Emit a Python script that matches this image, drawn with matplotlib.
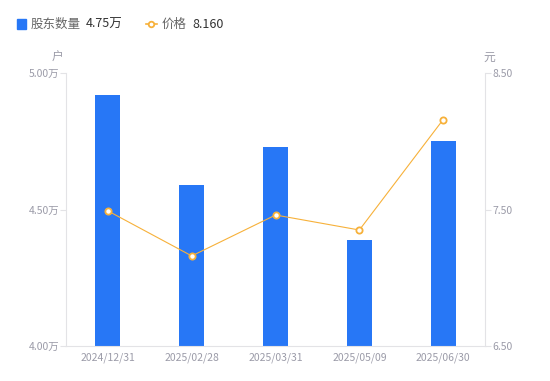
import numpy as np
import matplotlib
matplotlib.use("Agg")
import matplotlib.pyplot as plt

plt.rcParams['font.family'] = ['Noto Sans CJK SC', 'DejaVu Sans']

dates = ['2024/12/31', '2025/02/28', '2025/03/31', '2025/05/09', '2025/06/30']
holders = [4.92, 4.59, 4.73, 4.39, 4.75]   # 万户
price = [7.49, 7.16, 7.46, 7.35, 8.16]     # 元

bar_c = '#2777f6'
line_c = '#f7b13a'
tick_c = '#9b9ba8'
axis_c = '#e3e3e6'

fig = plt.figure(figsize=(5.5, 3.81), dpi=100)
ax = fig.add_axes([0.12, 0.092, 0.762, 0.716])
x = np.arange(len(dates))
ax.bar(x, holders, width=0.3, color=bar_c, zorder=2)
ax.set_xlim(-0.5, 4.5)
ax.set_ylim(4.0, 5.0)
ax.set_yticks([4.0, 4.5, 5.0])
ax.set_yticklabels(['%.2f万' % v for v in [4.0, 4.5, 5.0]])
ax.set_xticks(x)
ax.set_xticklabels(dates)

ax2 = ax.twinx()
ax2.plot(x, price, color=line_c, lw=0.8, marker='o', ms=4.5, mfc='white',
         mec=line_c, mew=1.3, zorder=3)
ax2.set_ylim(6.5, 8.5)
ax2.set_yticks([6.5, 7.5, 8.5])
ax2.set_yticklabels(['6.50', '7.50', '8.50'])

for a in (ax, ax2):
    for s in a.spines.values():
        s.set_visible(False)
    a.tick_params(colors=tick_c, labelsize=7.5, length=4, width=0.8)
ax.spines['left'].set_visible(True)
ax.spines['left'].set_color(axis_c)
ax.spines['bottom'].set_visible(True)
ax.spines['bottom'].set_color(axis_c)
ax2.spines['right'].set_visible(True)
ax2.spines['right'].set_color(axis_c)
ax.tick_params(axis='y', color=axis_c, labelcolor=tick_c, pad=1)
ax2.tick_params(axis='y', color=axis_c, labelcolor=tick_c, pad=1)
ax.tick_params(axis='x', length=0, pad=5)

fig.text(0.105, 0.84, '户', color=tick_c, fontsize=8.5, ha='center')
fig.text(0.89, 0.84, '元', color=tick_c, fontsize=8.5, ha='center')

# legend
fig.patches.append(plt.Rectangle((0.031, 0.925), 0.016, 0.024, color=bar_c,
                                 transform=fig.transFigure, figure=fig))
fig.text(0.055, 0.937, '股东数量', color='#666666', fontsize=9, va='center')
fig.text(0.155, 0.937, '4.75万', color='#333333', fontsize=9, va='center')
fig.add_artist(plt.Line2D([0.265, 0.285], [0.937, 0.937], color=line_c, lw=1.2,
                          transform=fig.transFigure))
fig.add_artist(plt.Line2D([0.275], [0.937], color=line_c, marker='o', ms=4,
                          mfc='white', mew=1.3, transform=fig.transFigure))
fig.text(0.293, 0.937, '价格', color='#666666', fontsize=9, va='center')
fig.text(0.35, 0.937, '8.160', color='#333333', fontsize=9, va='center')

fig.savefig('out.png', dpi=100, facecolor='white')
